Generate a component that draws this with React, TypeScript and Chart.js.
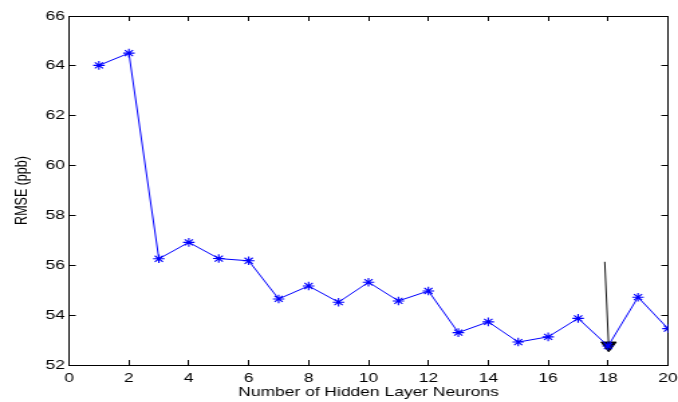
import React, { useEffect, useRef } from "react";
import { Chart, registerables } from "chart.js";

Chart.register(...registerables);

// ---- data ----
const neurons = [1, 2, 3, 4, 5, 6, 7, 8, 9, 10, 11, 12, 13, 14, 15, 16, 17, 18, 19, 20];
const rmse = [
  64.02, 64.51, 56.26, 56.92, 56.27, 56.18, 54.65, 55.17, 54.52, 55.32,
  54.57, 54.97, 53.3, 53.73, 52.92, 53.13, 53.87, 52.76, 54.72, 53.46,
];
const xTickValues = [0, 2, 4, 6, 8, 10, 12, 14, 16, 18, 20];
const yTickValues = [52, 54, 56, 58, 60, 62, 64, 66];
// arrow: start of shaft and centre of the arrow head
const arrowX = [17.89, 18.02];
const arrowY = [56.14, 52.79];

const FONT = '"Liberation Sans", Arial, sans-serif';
const CANVAS_W = 506; // drawn width, stretched to 678 via CSS
const CANVAS_H = 402;
const TICK_LEN = -5; // negative = inward tick marks

const frameGrid = {
  display: true,
  drawOnChartArea: false,
  drawTicks: true,
  tickLength: TICK_LEN,
  color: "#000",
  lineWidth: 1,
};
const frameBorder = { display: true, color: "#000", width: 1 };

export default function App() {
  const canvasRef = useRef<HTMLCanvasElement | null>(null);

  useEffect(() => {
    const canvas = canvasRef.current;
    if (!canvas) return;
    const chart = new Chart(canvas, {
      type: "line",
      data: {
        datasets: [
          {
            data: neurons.map((n, i) => ({ x: n, y: rmse[i] })),
            borderColor: "#0000ff",
            borderWidth: 1,
            pointStyle: "star",
            pointRadius: 4.3,
            pointBorderColor: "#0000ff",
            pointBorderWidth: 1.1,
            pointBackgroundColor: "#0000ff",
            xAxisID: "x",
            yAxisID: "y",
          },
          {
            data: arrowX.map((v, i) => ({ x: v, y: arrowY[i] })),
            borderColor: "#111",
            borderWidth: 1,
            pointStyle: "triangle",
            pointRadius: [0, 6.5],
            pointRotation: 180,
            pointBorderColor: "#000",
            pointBorderWidth: 1,
            pointBackgroundColor: "#000",
            xAxisID: "x",
            yAxisID: "y",
          },
        ],
      },
      options: {
        animation: false,
        responsive: false,
        devicePixelRatio: 1,
        layout: { padding: { top: 16, right: 6, left: 0, bottom: 0 } },
        plugins: {
          legend: { display: false },
          tooltip: { enabled: false },
        },
        scales: {
          x: {
            type: "linear",
            position: "bottom",
            min: 0,
            max: 20,
            afterBuildTicks: (s: any) => {
              s.ticks = xTickValues.map((v) => ({ value: v }));
            },
            afterFit: (s: any) => {
              s.height = 37;
              s.paddingLeft = 0;
              s.paddingRight = 0;
            },
            grid: frameGrid,
            border: frameBorder,
            ticks: {
              padding: 6 - TICK_LEN,
              color: "#000",
              maxRotation: 0,
              autoSkip: false,
              font: { family: FONT, size: 13 },
            },
            title: {
              display: true,
              text: "Number of Hidden Layer Neurons",
              color: "#000",
              font: { family: FONT, size: 13 },
              padding: { top: 0, bottom: 1.4 },
            },
          },
          x2: {
            type: "linear",
            position: "top",
            min: 0,
            max: 20,
            afterBuildTicks: (s: any) => {
              s.ticks = xTickValues.map((v) => ({ value: v }));
            },
            afterFit: (s: any) => {
              s.height = 0;
              s.paddingLeft = 0;
              s.paddingRight = 0;
            },
            grid: frameGrid,
            border: frameBorder,
            ticks: { display: false },
          },
          y: {
            type: "linear",
            position: "left",
            min: 52,
            max: 66,
            afterBuildTicks: (s: any) => {
              s.ticks = yTickValues.map((v) => ({ value: v }));
            },
            afterFit: (s: any) => {
              s.width = 51.5;
            },
            grid: frameGrid,
            border: frameBorder,
            ticks: {
              padding: 3 - TICK_LEN,
              color: "#000",
              autoSkip: false,
              font: { family: FONT, size: 13 },
            },
            title: {
              display: true,
              text: "RMSE (ppb)",
              color: "#000",
              font: { family: FONT, size: 12.5 },
              padding: { top: 9, bottom: 0 },
            },
          },
          y2: {
            type: "linear",
            position: "right",
            min: 52,
            max: 66,
            afterBuildTicks: (s: any) => {
              s.ticks = yTickValues.map((v) => ({ value: v }));
            },
            afterFit: (s: any) => {
              s.width = 0;
            },
            grid: frameGrid,
            border: frameBorder,
            ticks: { display: false },
          },
        },
      },
    });
    return () => chart.destroy();
  }, []);

  return (
    <div style={{ position: "fixed", left: 0, top: 0, width: 678, height: 402, background: "#fff" }}>
      <canvas
        ref={canvasRef}
        width={CANVAS_W}
        height={CANVAS_H}
        style={{ width: "678px", height: "402px", display: "block" }}
      />
    </div>
  );
}
